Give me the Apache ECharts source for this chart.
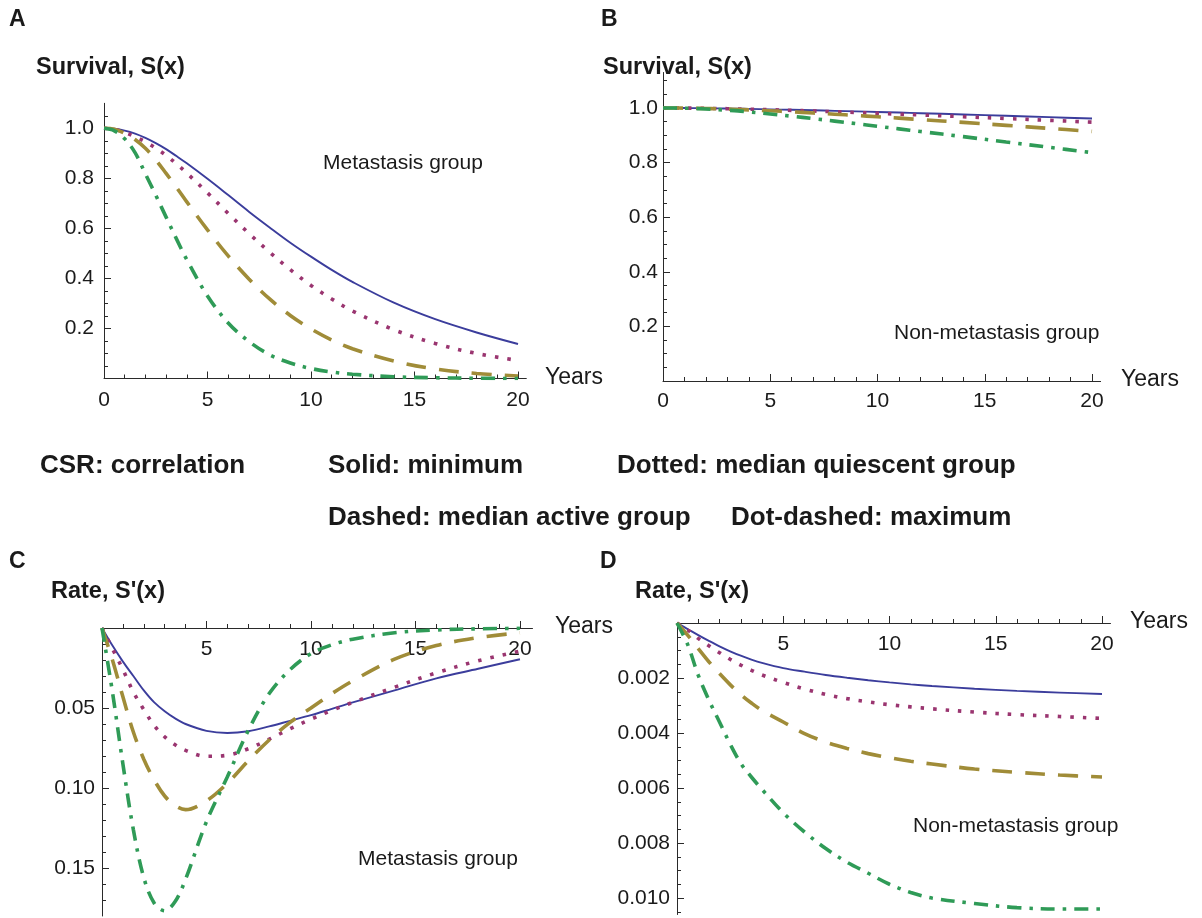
<!DOCTYPE html>
<html>
<head>
<meta charset="utf-8">
<script src="https://cdn.jsdelivr.net/npm/echarts@6/dist/echarts.min.js"></script>
<style>
html,body{margin:0;padding:0;background:#ffffff;}
#chart{width:1202px;height:918px;}
</style>
</head>
<body>
<div id="chart"></div>
<script>
// ---------- data ----------
const years = [0,0.5,1,1.5,2,2.5,3,3.5,4,5,6,7,8,9,10,11,12,14,16,18,20];

// Panel A: survival, metastasis group
const survMetMin       = [1,0.998,0.991,0.979,0.962,0.941,0.917,0.889,0.86,0.798,0.733,0.667,0.604,0.543,0.487,0.434,0.386,0.303,0.237,0.184,0.138];
const survMetQuiescent = [1,0.996,0.984,0.966,0.946,0.921,0.892,0.858,0.821,0.742,0.66,0.58,0.505,0.435,0.372,0.318,0.27,0.195,0.14,0.1,0.072];
const survMetActive    = [1,0.996,0.98,0.955,0.92,0.874,0.82,0.764,0.706,0.594,0.49,0.398,0.318,0.252,0.198,0.154,0.119,0.07,0.038,0.02,0.01];
const survMetMax       = [1,0.99,0.958,0.903,0.818,0.733,0.645,0.558,0.475,0.33,0.222,0.148,0.095,0.062,0.04,0.026,0.017,0.007,0.003,0.001,0];

// Panel B: survival, non-metastasis group
const survNonMin       = [1,0.9999,0.9998,0.9995,0.9991,0.9986,0.998,0.9973,0.9966,0.995,0.9933,0.9915,0.9896,0.9876,0.9855,0.9833,0.981,0.9763,0.9714,0.9664,0.9613];
const survNonQuiescent = [1,0.9999,0.9997,0.9993,0.9988,0.9981,0.9974,0.9966,0.9957,0.9937,0.9914,0.9889,0.9862,0.9834,0.9805,0.9775,0.9744,0.9681,0.9615,0.9548,0.948];
const survNonActive    = [1,0.9999,0.9996,0.999,0.9982,0.9972,0.996,0.9946,0.9931,0.9897,0.9859,0.9817,0.9773,0.9726,0.9678,0.9628,0.9577,0.9472,0.9364,0.9254,0.9143];
const survNonMax       = [1,0.9998,0.9992,0.998,0.9963,0.9943,0.992,0.9893,0.9855,0.978,0.97,0.961,0.952,0.9425,0.933,0.9235,0.914,0.895,0.8755,0.856,0.8365];

// Panel C: rate, metastasis group (axis runs downward)
const rateMetMin       = [0,0.011,0.021,0.03,0.039,0.0465,0.052,0.0565,0.06,0.0643,0.0656,0.0645,0.0615,0.058,0.0545,0.0505,0.0465,0.039,0.0315,0.0255,0.0195];
const rateMetQuiescent = [0,0.013,0.026,0.04,0.051,0.061,0.068,0.073,0.0765,0.0802,0.0795,0.0755,0.0695,0.063,0.057,0.0515,0.0465,0.037,0.028,0.0205,0.0145];
const rateMetActive    = [0,0.02,0.043,0.065,0.082,0.095,0.105,0.111,0.1135,0.108,0.097,0.083,0.07,0.059,0.05,0.041,0.033,0.0195,0.011,0.006,0.003];
const rateMetMax       = [0,0.04,0.085,0.126,0.156,0.172,0.1767,0.171,0.157,0.121,0.093,0.064,0.041,0.026,0.016,0.0105,0.007,0.003,0.0012,0.0005,0.0002];

// Panel D: rate, non-metastasis group (axis runs downward)
const rateNonMin       = [0,0.00022,0.00044,0.00065,0.00085,0.00103,0.00119,0.00133,0.00145,0.00164,0.00177,0.00189,0.00199,0.00208,0.00216,0.00223,0.00229,0.00239,0.00247,0.00253,0.00258];
const rateNonQuiescent = [0,0.00025,0.00056,0.00083,0.00108,0.00132,0.00153,0.00172,0.00189,0.00216,0.0024,0.0026,0.00275,0.00287,0.00297,0.00305,0.00312,0.00324,0.00333,0.0034,0.00347];
const rateNonActive    = [0,0.00044,0.00093,0.00141,0.00184,0.00224,0.0026,0.00291,0.00318,0.0036,0.00402,0.00433,0.00456,0.00475,0.0049,0.00503,0.00513,0.00531,0.00543,0.00553,0.0056];
const rateNonMax       = [0,0.00078,0.0019,0.0028,0.0036,0.0044,0.0051,0.0056,0.00605,0.0069,0.0076,0.0082,0.0087,0.0091,0.0095,0.0098,0.01,0.0102,0.01035,0.0104,0.0104];

// tick labels
const xTicksSurv = [0,5,10,15,20];
const xTicksRate = [5,10,15,20];
const yTicksSurv = [0.2,0.4,0.6,0.8,1.0];
const yTicksRateMet = [0.05,0.10,0.15];
const yTicksRateNon = [0.002,0.004,0.006,0.008,0.010];

const seriesNames = ['Solid: minimum','Dotted: median quiescent group','Dashed: median active group','Dot-dashed: maximum'];

// ---------- styling ----------
const FONT = '"Liberation Sans", Arial, Helvetica, sans-serif';
const AX = '#2a2a2a';
const TXT = '#1a1a1a';
const lineStyles = [
  {color:'#3b3d9c', type:'solid', width:1.9},
  {color:'#9a3570', type:[3.5,9], width:3.6},
  {color:'#a08c38', type:[20,13], width:3.6},
  {color:'#2f9b57', type:[14,8,3.5,8], width:3.6}
];

const panels = [
  {grid:{left:104, top:103.3, width:422.3, height:275.2}, xMax:20.4, yMax:1.1, yInt:0.2, ySplit:4,
   inverse:false, xPos:'bottom', xLabels:xTicksSurv, yLabels:yTicksSurv, yDec:1, yMargin:10, xMargin:11,
   data:[survMetMin,survMetQuiescent,survMetActive,survMetMax]},
  {grid:{left:663, top:72.5, width:437.6, height:308.5}, xMax:20.4, yMax:1.13, yInt:0.2, ySplit:4,
   inverse:false, xPos:'bottom', xLabels:xTicksSurv, yLabels:yTicksSurv, yDec:1, yMargin:5, xMargin:10,
   data:[survNonMin,survNonQuiescent,survNonActive,survNonMax]},
  {grid:{left:102, top:628, width:430.5, height:288}, xMax:20.6, yMax:0.18, yInt:0.05, ySplit:5,
   inverse:true, xPos:'top', xLabels:xTicksRate, yLabels:yTicksRateMet, yDec:2, yMargin:7, xMargin:11,
   data:[rateMetMin,rateMetQuiescent,rateMetActive,rateMetMax]},
  {grid:{left:677, top:623, width:433.5, height:291.5}, xMax:20.4, yMax:0.0106, yInt:0.002, ySplit:4,
   inverse:true, xPos:'top', xLabels:xTicksRate, yLabels:yTicksRateNon, yDec:3, yMargin:7, xMargin:11,
   data:[rateNonMin,rateNonQuiescent,rateNonActive,rateNonMax]}
];

const grids = [], xAxes = [], yAxes = [], series = [];
panels.forEach((p, i) => {
  grids.push(Object.assign({containLabel:false}, p.grid));
  const top = p.xPos === 'top';
  xAxes.push({
    type:'value', gridIndex:i, min:0, max:p.xMax, interval:5, position:p.xPos,
    axisLine:{show:true, onZero:false, lineStyle:{color:AX, width:1}},
    axisTick:{show:true, inside:!top, length:7, lineStyle:{color:AX, width:1}, customValues:p.xLabels},
    minorTick:{show:true, splitNumber:5, length:4, lineStyle:{color:AX, width:1}},
    axisLabel:{show:true, inside:top, margin:p.xMargin, customValues:p.xLabels,
      fontFamily:FONT, fontSize:21, color:TXT, formatter:v => String(Math.round(v))},
    splitLine:{show:false}, minorSplitLine:{show:false}
  });
  yAxes.push({
    type:'value', gridIndex:i, min:0, max:p.yMax, interval:p.yInt, inverse:p.inverse, position:'left',
    axisLine:{show:true, onZero:false, lineStyle:{color:AX, width:1}},
    axisTick:{show:true, inside:true, length:7, lineStyle:{color:AX, width:1}, customValues:p.yLabels},
    minorTick:{show:true, splitNumber:p.ySplit, length:4, lineStyle:{color:AX, width:1}},
    axisLabel:{show:true, margin:p.yMargin, customValues:p.yLabels,
      fontFamily:FONT, fontSize:21, color:TXT, formatter:v => Number(v).toFixed(p.yDec)},
    splitLine:{show:false}, minorSplitLine:{show:false}
  });
  p.data.forEach((arr, k) => {
    series.push({
      type:'line', name:seriesNames[k], xAxisIndex:i, yAxisIndex:i,
      data:years.map((x, j) => [x, arr[j]]),
      showSymbol:false, symbol:'none', smooth:0.35, clip:true, z:2 + k,
      lineStyle:lineStyles[k], emphasis:{disabled:true}, animation:false
    });
  });
});

function txt(text, x, y, size, bold) {
  return {type:'text', x:x, y:y, silent:true,
    style:{text:text, fill:TXT, fontFamily:FONT, fontSize:size, fontWeight:bold ? 'bold' : 'normal',
           align:'left', verticalAlign:'middle'}};
}

const graphics = [
  txt('A', 9, 20, 23, true), txt('B', 601, 20, 23, true),
  txt('C', 9, 562, 23, true), txt('D', 600, 562, 23, true),
  txt('Survival, S(x)', 36, 68, 23.5, true), txt('Survival, S(x)', 603, 68, 23.5, true),
  txt("Rate, S'(x)", 51, 592, 23.5, true), txt("Rate, S'(x)", 635, 592, 23.5, true),
  txt('Years', 545, 378, 23, false), txt('Years', 1121, 380, 23, false),
  txt('Years', 555, 627, 23, false), txt('Years', 1130, 622, 23, false),
  txt('Metastasis group', 323, 163, 21, false), txt('Non-metastasis group', 894, 333, 21, false),
  txt('Metastasis group', 358, 859, 21, false), txt('Non-metastasis group', 913, 826, 21, false),
  txt('CSR: correlation', 40, 466, 26, true),
  txt(seriesNames[0], 328, 466, 26, true),
  txt(seriesNames[1], 617, 466, 26, true),
  txt(seriesNames[2], 328, 518, 26, true),
  txt(seriesNames[3], 731, 518, 26, true)
];

const chart = echarts.init(document.getElementById('chart'), null, {renderer:'canvas'});
chart.setOption({
  backgroundColor:'#ffffff',
  animation:false,
  grid:grids, xAxis:xAxes, yAxis:yAxes, series:series,
  graphic:graphics
});
</script>
</body>
</html>
